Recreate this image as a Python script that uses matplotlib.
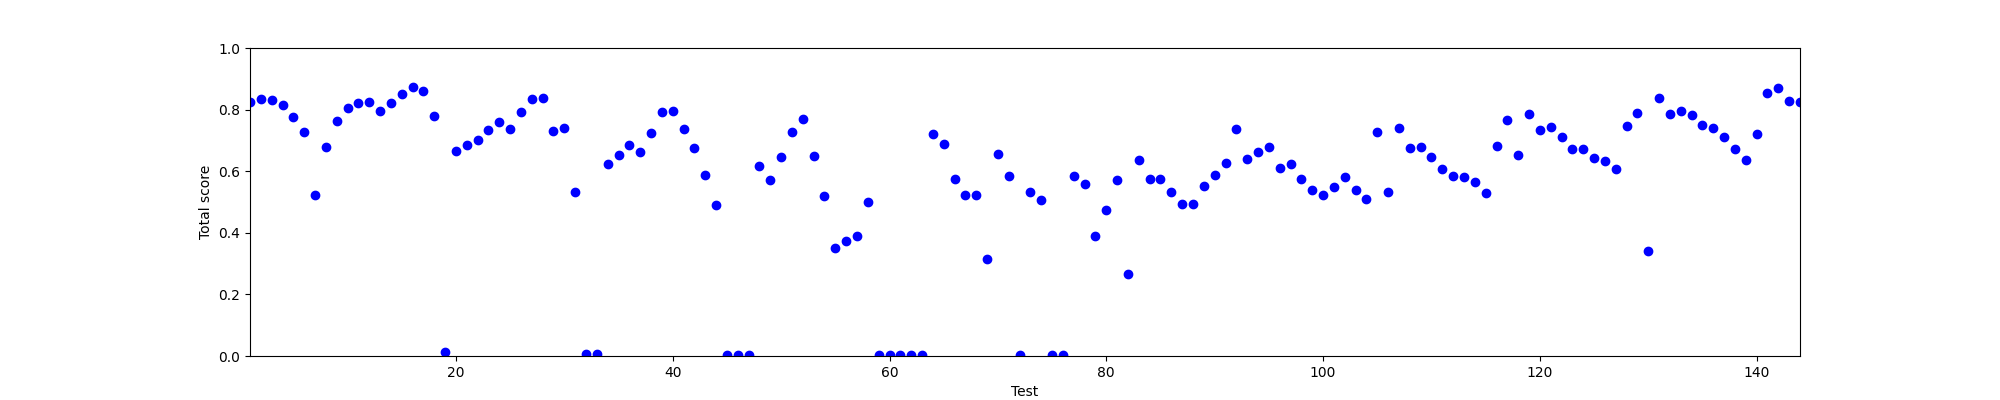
import numpy as np
import matplotlib
matplotlib.use("Agg")
import matplotlib.pyplot as plt

# test index 1..144 and the score read for each
tests = np.arange(1, 145)
scores = [
    0.824, 0.833, 0.830, 0.814, 0.775, 0.726, 0.524, 0.680, 0.762, 0.804,
    0.821, 0.824, 0.797, 0.821, 0.850, 0.872, 0.862, 0.778, 0.013, 0.664,
    0.684, 0.701, 0.733, 0.759, 0.737, 0.792, 0.833, 0.837, 0.730, 0.740,
    0.531, 0.006, 0.006, 0.625, 0.651, 0.685, 0.661, 0.723, 0.792, 0.795,
    0.737, 0.675, 0.589, 0.489, 0.003, 0.003, 0.003, 0.616, 0.571, 0.646,
    0.726, 0.771, 0.649, 0.519, 0.350, 0.372, 0.391, 0.499, 0.003, 0.003,
    0.003, 0.003, 0.003, 0.720, 0.687, 0.574, 0.522, 0.522, 0.314, 0.657,
    0.586, 0.003, 0.534, 0.505, 0.002, 0.002, 0.586, 0.557, 0.391, 0.475,
    0.570, 0.267, 0.636, 0.576, 0.576, 0.531, 0.492, 0.495, 0.553, 0.589,
    0.628, 0.736, 0.641, 0.661, 0.677, 0.609, 0.622, 0.576, 0.540, 0.524,
    0.550, 0.580, 0.540, 0.511, 0.726, 0.534, 0.739, 0.674, 0.677, 0.645,
    0.606, 0.583, 0.580, 0.564, 0.528, 0.681, 0.765, 0.652, 0.785, 0.733,
    0.743, 0.710, 0.671, 0.671, 0.642, 0.632, 0.606, 0.746, 0.789, 0.340,
    0.837, 0.785, 0.795, 0.781, 0.749, 0.739, 0.710, 0.671, 0.635, 0.720,
    0.853, 0.869, 0.827, 0.824,
]

fig, ax = plt.subplots(figsize=(20, 4), dpi=100)
ax.plot(tests, scores, "bo")
ax.set_xlim(tests[0], tests[-1])
ax.set_ylim(0, 1)
ax.set_xlabel("Test")
ax.set_ylabel("Total score")

fig.savefig("out.png", dpi=100)
